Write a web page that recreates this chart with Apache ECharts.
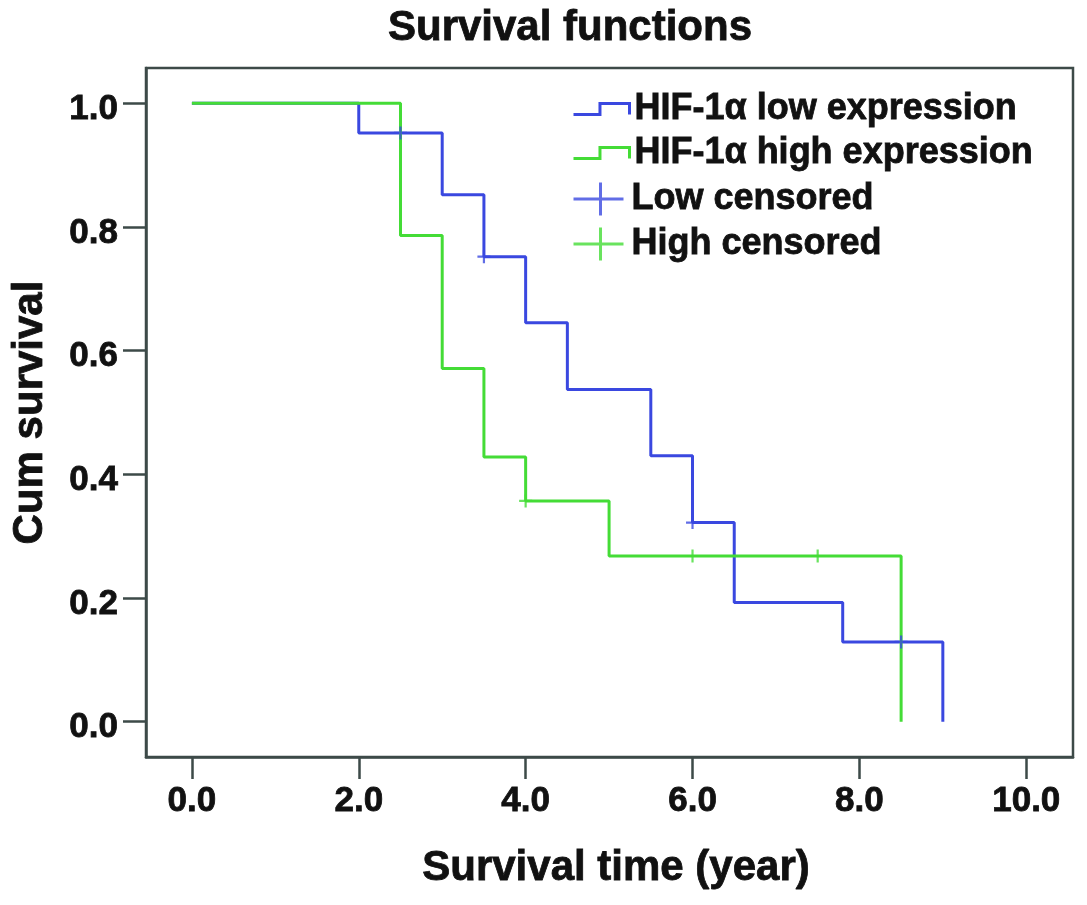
<!DOCTYPE html>
<html>
<head>
<meta charset="utf-8">
<script src="https://cdn.jsdelivr.net/npm/echarts@6/dist/echarts.min.js"></script>
<style>
html,body{margin:0;padding:0;background:#fff;}
#chart{width:1087px;height:905px;}
</style>
</head>
<body>
<div id="chart"></div>
<script>
// Kaplan-Meier step data (time of event, survival after event)
var lowTimes = [0, 2, 3, 3.5, 4, 4.5, 5.5, 6, 6.5, 7.8, 9];
var lowSurv  = [1.0, 0.952, 0.852, 0.752, 0.645, 0.537, 0.430, 0.322, 0.193, 0.129, 0];
var highTimes = [0, 2.5, 3, 3.5, 4, 5, 8.5];
var highSurv  = [1.0, 0.786, 0.571, 0.428, 0.357, 0.268, 0];
// censored observations
var lowCensT = [2.5, 3.5, 6, 8.5];
var lowCensS = [0.952, 0.752, 0.322, 0.129];
var highCensT = [4, 6, 7.5];
var highCensS = [0.357, 0.268, 0.268];
// tick labels
var xTicks = [0, 2, 4, 6, 8, 10];
var yTicks = [0, 0.2, 0.4, 0.6, 0.8, 1.0];
var seriesNames = ['HIF-1α low expression', 'HIF-1α high expression', 'Low censored', 'High censored'];

var BLUE = '#3a48e0';
var GREEN = '#44dc36';
var AXIS = '#3d4a48';
var FONT = 'Liberation Sans, Arial, sans-serif';
var TXT = '#111111';

function pairs(xs, ys) { return xs.map(function (x, i) { return [x, ys[i]]; }); }

var stepIcon = 'path://M0,11 L26,11 L26,0 L55,0 L55,11';
var plusIcon = 'path://M0,16.5 L50,16.5 M27,0 L27,33';
var plusSym = 'path://M0,5 L10,5 M5,0 L5,10';

function bold(size, extra) {
  var s = {fontFamily: FONT, fontWeight: 'bold', fontSize: size, color: TXT,
           textBorderColor: TXT, textBorderWidth: 0.8};
  for (var k in (extra || {})) s[k] = extra[k];
  return s;
}

var chart = echarts.init(document.getElementById('chart'), null, {renderer: 'canvas'});
chart.setOption({
  animation: false,
  backgroundColor: '#ffffff',
  title: {
    text: 'Survival functions',
    left: 570, top: 7, padding: 0,
    textAlign: 'center',
    textStyle: bold(42)
  },
  legend: [{
    orient: 'vertical', left: 572, top: 89, padding: 0, itemGap: 4,
    itemWidth: 56, itemHeight: 12, selectedMode: false,
    textStyle: bold(36, {lineHeight: 40}),
    data: [
      {name: seriesNames[0], icon: stepIcon, itemStyle: {color: 'transparent', borderColor: BLUE, borderWidth: 3}},
      {name: seriesNames[1], icon: stepIcon, itemStyle: {color: 'transparent', borderColor: GREEN, borderWidth: 3}}
    ]
  }, {
    orient: 'vertical', left: 572, top: 179, padding: 0, itemGap: 5,
    itemWidth: 56, itemHeight: 33, selectedMode: false,
    textStyle: bold(36, {lineHeight: 40}),
    data: [
      {name: seriesNames[2], icon: plusIcon, itemStyle: {color: 'transparent', borderColor: BLUE, borderWidth: 3}},
      {name: seriesNames[3], icon: plusIcon, itemStyle: {color: 'transparent', borderColor: GREEN, borderWidth: 3}}
    ]
  }],
  grid: {
    left: 146, right: 14, top: 68, bottom: 148,
    show: true, borderColor: AXIS, borderWidth: 2.5, backgroundColor: '#fff'
  },
  xAxis: {
    type: 'value', min: -0.55, max: 10.56,
    name: 'Survival time (year)', nameLocation: 'middle', nameGap: 90,
    nameTextStyle: bold(42, {padding: [0, 0, 0, 13]}),
    axisLine: {show: true, onZero: false, lineStyle: {color: AXIS, width: 2.5}},
    axisTick: {show: true, length: 22, customValues: xTicks, lineStyle: {color: AXIS, width: 2.5}},
    axisLabel: Object.assign({
      customValues: xTicks, margin: 27,
      formatter: function (v) { return v.toFixed(1); }
    }, bold(35)),
    splitLine: {show: false}
  },
  yAxis: {
    type: 'value', min: -0.057, max: 1.057,
    name: 'Cum survival', nameLocation: 'middle', nameGap: 95, nameRotate: 90,
    nameTextStyle: bold(42),
    axisLine: {show: true, onZero: false, lineStyle: {color: AXIS, width: 2.5}},
    axisTick: {show: true, length: 23, customValues: yTicks, lineStyle: {color: AXIS, width: 2.5}},
    axisLabel: Object.assign({
      customValues: yTicks, margin: 28,
      formatter: function (v) { return '{p|' + v.toFixed(1) + '}'; },
      rich: {p: bold(35, {padding: [12, 0, 0, 0]})}
    }, bold(35)),
    splitLine: {show: false}
  },
  series: [
    {
      name: seriesNames[0], type: 'line', step: 'end', showSymbol: false, symbol: 'none',
      data: pairs(lowTimes, lowSurv),
      lineStyle: {color: BLUE, width: 3}, itemStyle: {color: BLUE}, z: 2
    },
    {
      name: seriesNames[1], type: 'line', step: 'end', showSymbol: false, symbol: 'none',
      data: pairs(highTimes, highSurv),
      lineStyle: {color: GREEN, width: 3}, itemStyle: {color: GREEN}, z: 3
    },
    {
      name: seriesNames[2], type: 'scatter', symbol: plusSym, symbolSize: 13,
      data: pairs(lowCensT, lowCensS),
      itemStyle: {color: 'transparent', borderColor: BLUE, borderWidth: 2.2}, z: 4
    },
    {
      name: seriesNames[3], type: 'scatter', symbol: plusSym, symbolSize: 13,
      data: pairs(highCensT, highCensS),
      itemStyle: {color: 'transparent', borderColor: GREEN, borderWidth: 2.2}, z: 4
    }
  ]
});
</script>
</body>
</html>
